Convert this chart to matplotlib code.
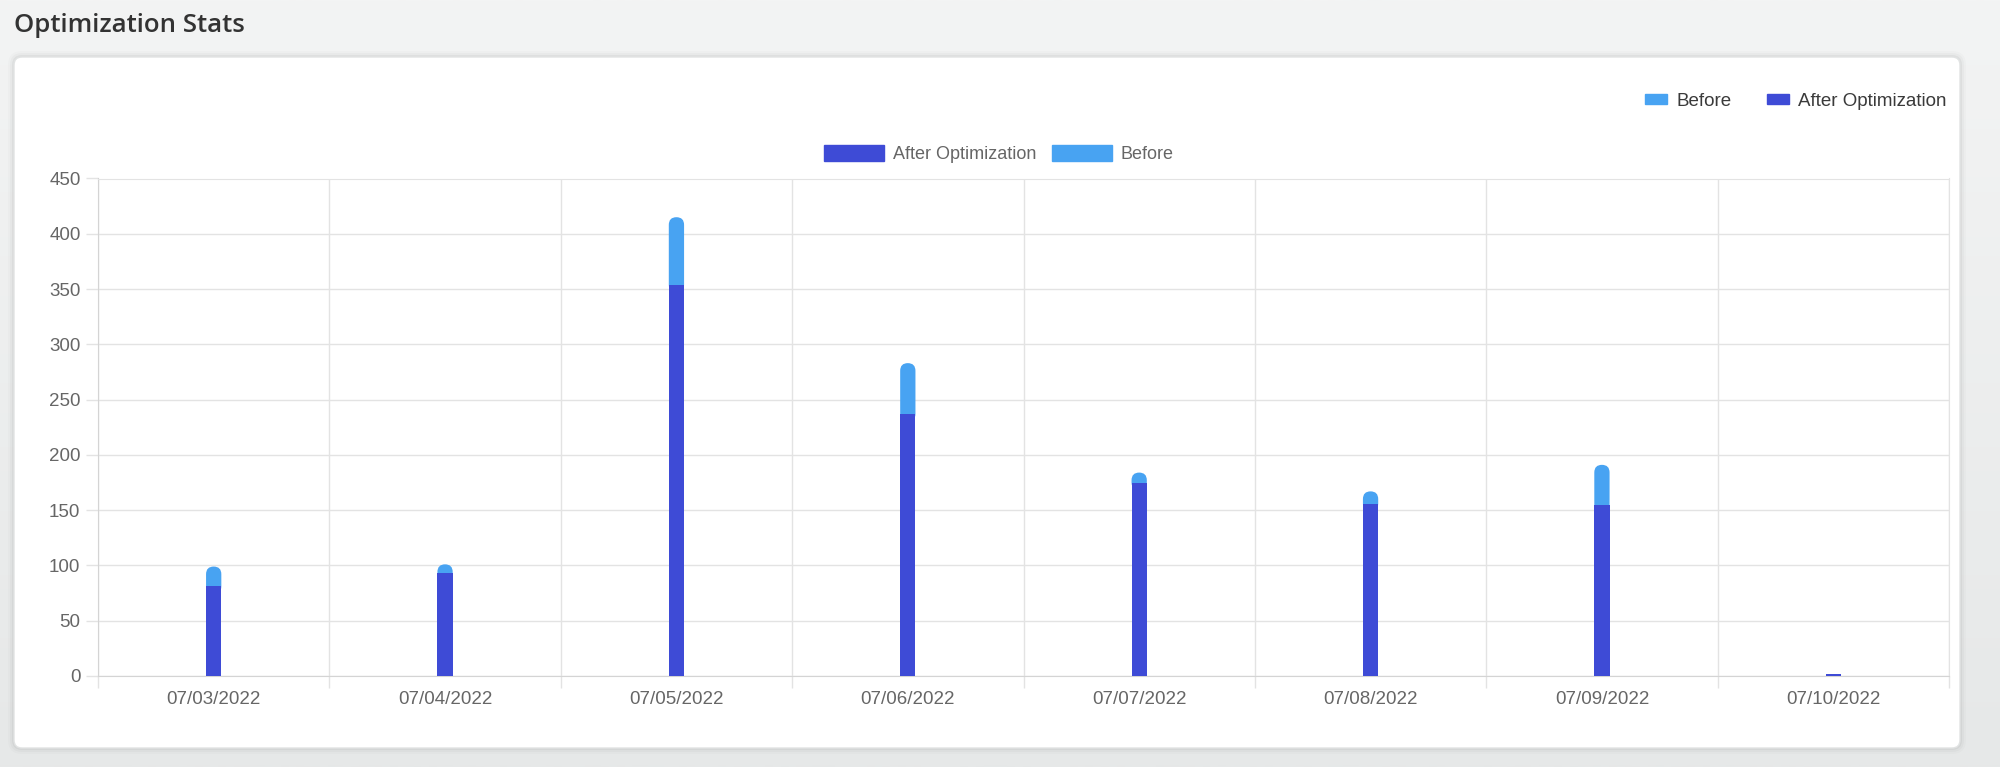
import matplotlib
matplotlib.use('Agg')
import matplotlib.pyplot as plt
import numpy as np
from matplotlib.patches import FancyBboxPatch, Patch
from matplotlib.transforms import IdentityTransform
from matplotlib.colors import LinearSegmentedColormap

# Data (stacked like the original)
dates = ['07/03/2022', '07/04/2022', '07/05/2022', '07/06/2022',
         '07/07/2022', '07/08/2022', '07/09/2022', '07/10/2022']
after_opt = [81, 93, 354, 237, 175, 156, 155, 2]
before = [18, 8, 61, 46, 9, 11, 36, 0]
y_ticks = list(range(0, 451, 50))

# Style
after_color = '#3e4bd6'
before_color = '#48a3f2'
grid_color = '#e3e3e3'
label_color = '#666666'
plt.rcParams['font.family'] = ['Liberation Sans', 'DejaVu Sans']

W, H, DPI = 2000, 767, 100
fig = plt.figure(figsize=(W / DPI, H / DPI), dpi=DPI)
fig.patch.set_facecolor('#eceeee')

# page background: soft vertical gradient
bg = fig.add_axes([0, 0, 1, 1], zorder=-5)
bg.axis('off')
bg_cmap = LinearSegmentedColormap.from_list('bg', ['#f3f4f4', '#e6e8e8'])
bg.imshow(np.linspace(0, 1, 256).reshape(-1, 1), aspect='auto',
          cmap=bg_cmap, extent=[0, 1, 0, 1])

# White card with a soft shadow, in pixel coordinates
px = IdentityTransform()
for grow, alpha in [(6, 0.015), (4, 0.025), (2, 0.04)]:
    fig.add_artist(FancyBboxPatch(
        (14 - grow, 19 - grow), 1946 + 2 * grow, 691 + 2 * grow,
        boxstyle=f'round,pad=0,rounding_size={8 + grow}', transform=px,
        facecolor='black', edgecolor='none', alpha=alpha, zorder=-3))
fig.add_artist(FancyBboxPatch(
    (14, 19), 1946, 691, boxstyle='round,pad=0,rounding_size=8',
    transform=px, facecolor='white', edgecolor='#e1e3e3', lw=1, zorder=-2))

fig.text(14 / W, 1 - 26 / H, 'Optimization Stats', ha='left', va='center',
         fontsize=18.5, fontweight='semibold', color='#333333',
         family=['Open Sans', 'DejaVu Sans'])

# Plot area
ax = fig.add_axes([98 / W, 1 - 676 / H, (1949 - 98) / W, (676 - 178.5) / H])
ax.patch.set_alpha(0)
ax.set_xlim(-0.5, len(dates) - 0.5)
ax.set_ylim(0, 450)
ax.set_axisbelow(True)

x = np.arange(len(dates))
after_arr = np.array(after_opt, dtype=float)
before_arr = np.array(before, dtype=float)
bar_w = 0.066

# rounded top of the stack: radius = half the bar width, converted to y units
ax_w_px = ax.get_position().width * W
ax_h_px = ax.get_position().height * H
bar_px = bar_w * ax_w_px / len(dates)
r_y = (bar_px / 2) / (ax_h_px / 450)

ax.bar(x, after_arr, bar_w, color=after_color, zorder=3, linewidth=0)
for xi, a, b in zip(x, after_arr, before_arr):
    if b <= 0:
        continue
    # extends down under the After bar so only the top corners show rounded
    ax.add_patch(FancyBboxPatch(
        (xi - bar_w / 2, a - r_y), bar_w, b + r_y,
        boxstyle=f'round,pad=0,rounding_size={bar_w / 2}',
        mutation_aspect=r_y / (bar_w / 2),
        facecolor=before_color, edgecolor='none', zorder=2))

# Axes styling
ax.set_xticks(x)
ax.set_xticklabels(dates)
ax.set_xticks(np.arange(-0.5, len(dates)), minor=True)
ax.tick_params(axis='x', which='major', length=0, pad=11,
               labelsize=13.5, labelcolor=label_color)
ax.tick_params(axis='x', which='minor', length=8.6, width=1, color=grid_color)
ax.set_yticks(y_ticks)
ax.tick_params(axis='y', length=8.6, width=1, color=grid_color, pad=4,
               labelsize=13.5, labelcolor=label_color)
ax.grid(axis='x', which='minor', color=grid_color, lw=1)
ax.grid(axis='y', which='major', color=grid_color, lw=1)
for side in ['top', 'right']:
    ax.spines[side].set_color(grid_color)
for side in ['left', 'bottom']:
    ax.spines[side].set_color('#d4d4d4')

# Chart legend (centered above plot)
fig.legend(handles=[Patch(color=after_color), Patch(color=before_color)],
           labels=['After Optimization', 'Before'],
           loc='center', bbox_to_anchor=(999 / W, 1 - 154 / H), ncol=2,
           frameon=False, fontsize=13, handlelength=3.3, handleheight=1.0,
           handletextpad=0.5, columnspacing=0.9, labelcolor=label_color)

# Page legend (top right)
fig.legend(handles=[Patch(color=before_color), Patch(color=after_color)],
           labels=['Before', 'After Optimization'],
           loc='center', bbox_to_anchor=(1796 / W, 1 - 101 / H), ncol=2,
           frameon=False, fontsize=13.5, handlelength=1.15, handleheight=0.45,
           handletextpad=0.5, columnspacing=1.9, labelcolor='#3a3a3a')

fig.savefig('out.png', dpi=DPI, facecolor=fig.get_facecolor())
